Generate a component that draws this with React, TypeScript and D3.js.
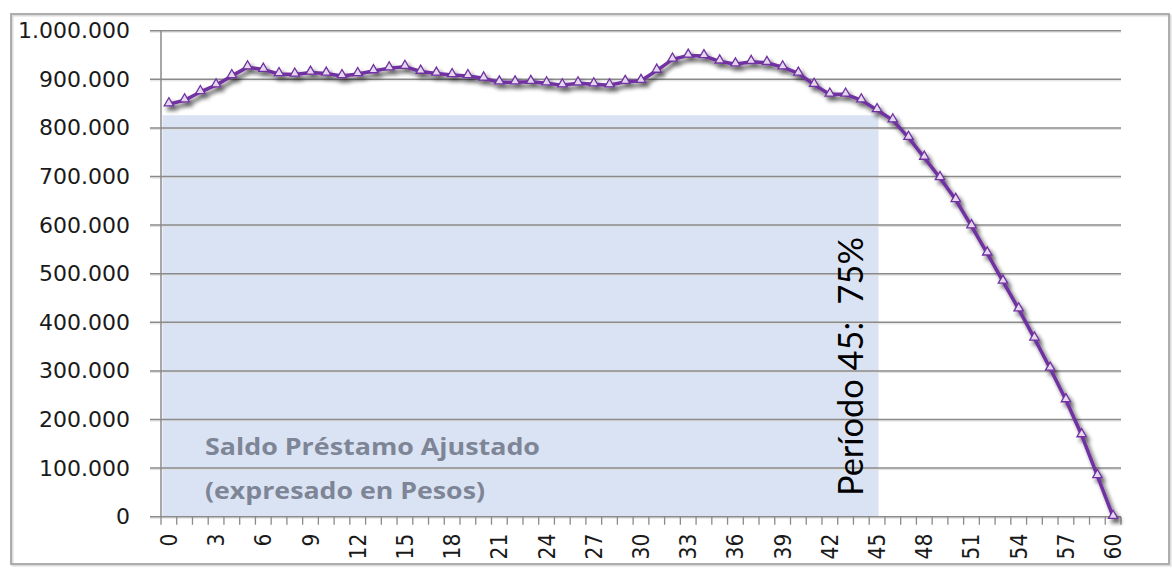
import React from "react";
import * as d3 from "d3";

const periods: number[] = Array.from({ length: 61 }, (_, i) => i);
const saldo: number[] = [
  849000, 857000, 874000, 888000, 907000, 925000, 920000, 911000, 910000, 914000,
  912000, 907000, 911000, 917000, 923000, 926000, 916000, 912000, 909000, 907000,
  902000, 894000, 894000, 895000, 892000, 888000, 892000, 890000, 888000, 895000,
  897000, 918000, 941000, 949000, 948000, 937000, 931000, 936000, 934000, 925000,
  912000, 889000, 869000, 869000, 857000, 837000, 816000, 780000, 739000, 697000,
  652000, 598000, 542000, 484000, 427000, 367000, 305000, 240000, 168000, 84000, 0,
];
const yTicks: number[] = [0, 100000, 200000, 300000, 400000, 500000, 600000, 700000, 800000, 900000, 1000000];
const xLabelPeriods: number[] = periods.filter((p) => p % 3 === 0);
const shadeEndPeriod = 45;
const shadeValue = 826000;
const labelLines: string[] = ["Saldo Préstamo Ajustado", "(expresado en Pesos)"];
const rotatedLabel = "Período 45:  75%";

const W = 1172;
const H = 568;
const M = { left: 161, right: 1121, top: 30.7, bottom: 516.7 };

const fmt = d3.formatLocale({ decimal: ",", thousands: ".", grouping: [3], currency: ["$", ""] }).format(",d");

export default function App() {
  const x = d3.scaleBand<number>().domain(periods).range([M.left, M.right]).paddingInner(0).paddingOuter(0);
  const bw = x.bandwidth();
  const cx = (p: number) => (x(p) as number) + bw / 2;
  const y = d3.scaleLinear().domain([0, 1000000]).range([M.bottom, M.top]);

  const line = d3
    .line<number>()
    .x((_, i) => cx(periods[i]))
    .y((d) => y(d));

  const tri = d3.symbol().type(d3.symbolTriangle).size(38)();

  const boundaries = d3.range(periods.length + 1).map((i) => M.left + i * bw);

  return (
    <div style={{ position: "absolute", left: 0, top: 0 }}>
      <svg width={W} height={H} style={{ display: "block", background: "#fff" }}>
        <defs>
          <filter id="shadow" x="-5%" y="-20%" width="110%" height="140%">
            <feGaussianBlur in="SourceAlpha" stdDeviation="2.2" />
            <feOffset dx="3" dy="4" result="ob" />
            <feComponentTransfer>
              <feFuncA type="linear" slope="0.65" />
            </feComponentTransfer>
            <feMerge>
              <feMergeNode />
              <feMergeNode in="SourceGraphic" />
            </feMerge>
          </filter>
        </defs>

        {/* outer border */}
        <rect x={12.5} y={15.5} width={1158} height={550} fill="none" stroke="#dcdcdc" strokeWidth={2} />
        <rect x={11} y={14} width={1158} height={550} fill="none" stroke="#a6a6a6" strokeWidth={1.8} />

        {/* shaded region */}
        <rect
          x={M.left + 1.5}
          y={y(shadeValue)}
          width={cx(shadeEndPeriod) + 1.5 - M.left - 1.5}
          height={M.bottom - y(shadeValue)}
          fill="#dae3f3"
        />

        {/* gridlines */}
        {yTicks.map((t) => (
          <g key={t}>
            <line x1={150} x2={M.right} y1={y(t) + 1.5} y2={y(t) + 1.5} stroke="#dedede" strokeWidth={1} />
            <line x1={150} x2={M.right} y1={y(t)} y2={y(t)} stroke="#8a8a8a" strokeWidth={1.5} />
            <text
              x={130}
              y={y(t)}
              textAnchor="end"
              dominantBaseline="central"
              fontFamily="DejaVu Sans, Verdana, sans-serif"
              fontSize={22}
              fill="#1a1a1a"
            >
              {fmt(t)}
            </text>
          </g>
        ))}

        {/* y axis */}
        <line x1={M.left} x2={M.left} y1={M.top} y2={M.bottom} stroke="#8a8a8a" strokeWidth={1.5} />

        {/* x ticks */}
        {boundaries.map((bx, i) => (
          <line key={i} x1={bx} x2={bx} y1={M.bottom} y2={M.bottom + 8} stroke="#8a8a8a" strokeWidth={1.3} />
        ))}
        {xLabelPeriods.map((p) => (
          <text
            key={p}
            transform={`translate(${cx(p)},${M.bottom + 17}) rotate(-90)`}
            textAnchor="end"
            dominantBaseline="central"
            fontFamily="DejaVu Sans Condensed, DejaVu Sans, sans-serif"
            fontStretch="condensed"
            fontSize={22.5}
            fill="#1a1a1a"
          >
            {p}
          </text>
        ))}

        {/* annotation texts */}
        {labelLines.map((s, i) => (
          <text
            key={i}
            x={205}
            y={455 + i * 44}
            fontFamily="Open Sans, sans-serif"
            fontWeight="bold"
            fontSize={23}
            fill="#7d8596"
            textLength={i === 0 ? 335 : 280}
            lengthAdjust="spacingAndGlyphs"
          >
            {s}
          </text>
        ))}
        <text
          transform={`translate(863,496) rotate(-90)`}
          fontFamily="Lato, sans-serif"
          fontSize={34}
          fill="#000"
          textLength={259}
          lengthAdjust="spacingAndGlyphs"
          style={{ whiteSpace: "pre" }}
        >
          {rotatedLabel}
        </text>

        {/* series */}
        <g filter="url(#shadow)">
          <path d={line(saldo) || ""} fill="none" stroke="#7030a0" strokeWidth={3.5} strokeLinejoin="round" />
          {saldo.map((v, i) => (
            <path
              key={i}
              d={tri || ""}
              transform={`translate(${cx(periods[i])},${y(v) - 1})`}
              fill="#e4d8ee"
              stroke="#7030a0"
              strokeWidth={1.3}
            />
          ))}
        </g>
      </svg>
    </div>
  );
}
